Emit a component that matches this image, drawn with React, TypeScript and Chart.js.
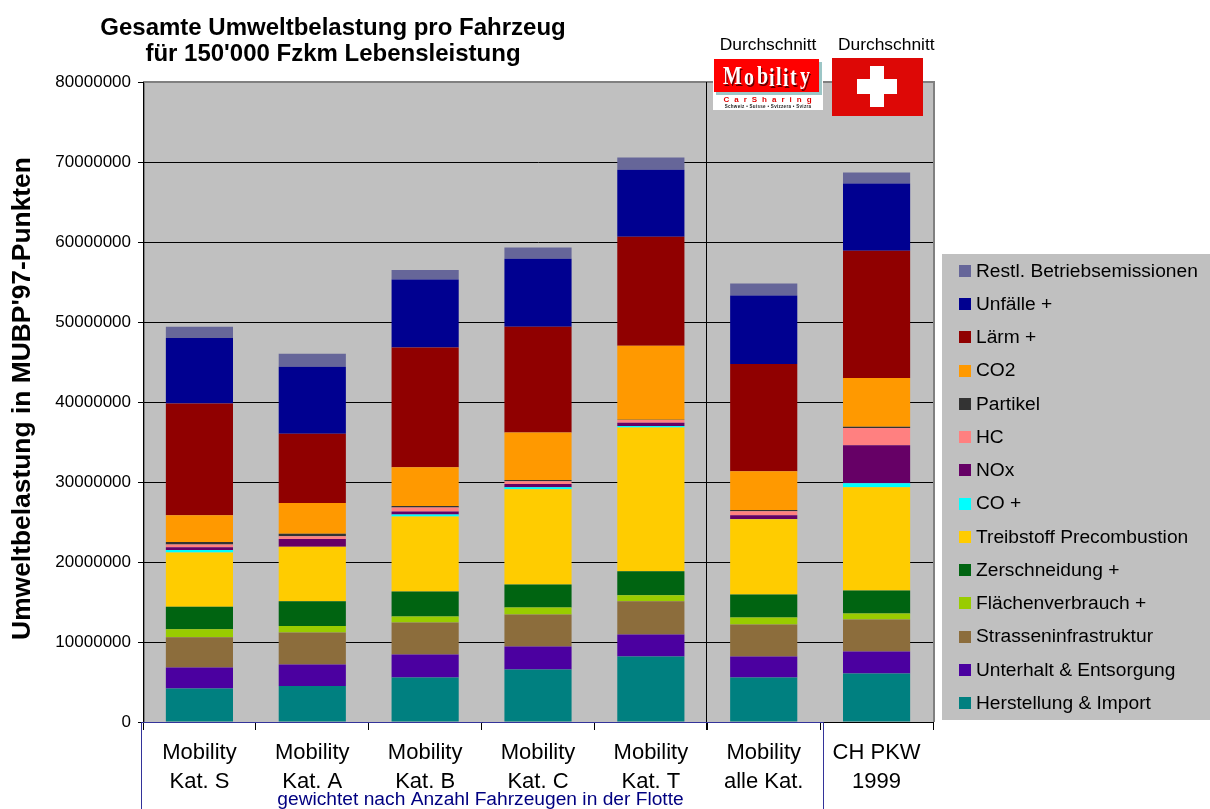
import React, { useEffect, useRef } from "react";
import { Chart, registerables } from "chart.js";

Chart.register(...registerables);

const FONT = '"Liberation Sans", Arial, sans-serif';

const categories = [
  ["Mobility", "Kat. S"],
  ["Mobility", "Kat. A"],
  ["Mobility", "Kat. B"],
  ["Mobility", "Kat. C"],
  ["Mobility", "Kat. T"],
  ["Mobility", "alle Kat."],
  ["CH PKW", "1999"],
];

const herstellung = [4200000, 4500000, 5550000, 6550000, 8200000, 5550000, 6050000];
const unterhalt = [2600000, 2700000, 2900000, 2900000, 2750000, 2650000, 2750000];
const strasse = [3800000, 4000000, 4000000, 4000000, 4150000, 4000000, 4000000];
const flaechen = [1000000, 800000, 750000, 850000, 750000, 850000, 750000];
const zerschneidung = [2800000, 3100000, 3100000, 2900000, 3000000, 2900000, 2900000];
const treibstoff = [6800000, 6800000, 9400000, 11900000, 17950000, 9400000, 12900000];
const co = [300000, 20000, 250000, 250000, 200000, 20000, 500000];
const nox = [350000, 950000, 350000, 400000, 400000, 480000, 4750000];
const hc = [350000, 350000, 500000, 350000, 350000, 500000, 2150000];
const partikel = [300000, 300000, 200000, 150000, 20000, 150000, 150000];
const co2 = [3350000, 3850000, 4850000, 5950000, 9250000, 4850000, 6100000];
const laerm = [13950000, 8650000, 14950000, 13200000, 13650000, 13400000, 15900000];
const unfaelle = [8200000, 8400000, 8500000, 8500000, 8350000, 8550000, 8400000];
const restl = [1400000, 1600000, 1200000, 1400000, 1550000, 1500000, 1400000];

const seriesNames = [
  "Herstellung & Import", "Unterhalt & Entsorgung", "Strasseninfrastruktur",
  "Flächenverbrauch +", "Zerschneidung +", "Treibstoff Precombustion", "CO +",
  "NOx", "HC", "Partikel", "CO2", "Lärm +", "Unfälle +", "Restl. Betriebsemissionen",
];
const seriesValues = [
  herstellung, unterhalt, strasse, flaechen, zerschneidung, treibstoff, co,
  nox, hc, partikel, co2, laerm, unfaelle, restl,
];
const seriesColors = [
  "#008080", "#4B00A0", "#8C6D3C", "#99CC00", "#006411", "#FFCC00", "#00FFFF",
  "#660066", "#FF8080", "#333333", "#FF9900", "#900000", "#000090", "#666699",
];

const titleLines = ["Gesamte Umweltbelastung pro Fahrzeug", "für 150'000 Fzkm Lebensleistung"];
const yAxisTitle = "Umweltbelastung in MUBP'97-Punkten";
const flotteNote = "gewichtet nach Anzahl Fahrzeugen in der Flotte";
const logoCaption = "Durchschnitt";
const logoLetters = ["M", "o", "b", "i", "l", "i", "t", "y"];
const logoLetterX = [723, 744, 757, 769, 776, 783, 790, 800];
const logoLetterY = [84, 85, 84, 86, 85, 86, 85, 84];

function text(ctx: CanvasRenderingContext2D, s: string, x: number, y: number, font: string, color: string, align: CanvasTextAlign = "center") {
  ctx.font = font;
  ctx.fillStyle = color;
  ctx.textAlign = align;
  ctx.textBaseline = "middle";
  ctx.fillText(s, x, y);
}

const backdrop = {
  id: "backdrop",
  beforeDraw(chart: any) {
    const { ctx, chartArea: a } = chart;
    ctx.save();
    ctx.fillStyle = "#C0C0C0";
    ctx.fillRect(a.left, a.top, a.right - a.left, a.bottom - a.top);
    ctx.strokeStyle = "#808080";
    ctx.lineWidth = 2;
    ctx.beginPath();
    ctx.moveTo(a.left + 1, a.bottom);
    ctx.lineTo(a.left + 1, a.top);
    ctx.lineTo(a.right + 1, a.top);
    ctx.lineTo(a.right + 1, a.bottom);
    ctx.stroke();
    // legend panel
    ctx.fillStyle = "#C0C0C0";
    ctx.fillRect(942, 254, 268, 466);
    ctx.restore();
  },
  afterDraw(chart: any) {
    const { ctx, chartArea: a, scales } = chart;
    ctx.save();
    // title
    text(ctx, titleLines[0], 333, 28.5, `bold 24px ${FONT}`, "#000");
    text(ctx, titleLines[1], 333, 54.5, `bold 24px ${FONT}`, "#000");

    // y axis title
    ctx.save();
    ctx.translate(23, 398.5);
    ctx.rotate(-Math.PI / 2);
    text(ctx, yAxisTitle, 0, 0, `bold 26.4px ${FONT}`, "#000");
    ctx.restore();

    // divider between the Mobility categories and the fleet average
    const x = scales.x;
    const divider = Math.round((x.getPixelForValue(4) + x.getPixelForValue(5)) / 2) - 0.5;
    ctx.strokeStyle = "#000";
    ctx.lineWidth = 1;
    ctx.beginPath();
    ctx.moveTo(divider, a.top);
    ctx.lineTo(divider, a.bottom + 8);
    ctx.stroke();

    // blue bracket under the Mobility categories
    ctx.strokeStyle = "#333399";
    ctx.beginPath();
    ctx.moveTo(141.5, 809);
    ctx.lineTo(141.5, a.bottom + 0.5);
    ctx.lineTo(823.5, a.bottom + 0.5);
    ctx.lineTo(823.5, 809);
    ctx.stroke();
    text(ctx, flotteNote, 480.5, 800, `19.2px ${FONT}`, "#000080");

    // legend
    const n = seriesNames.length;
    for (let i = 0; i < n; i++) {
      const idx = n - 1 - i;
      const cy = 271 + (i * 432) / 13;
      ctx.fillStyle = seriesColors[idx];
      ctx.fillRect(959, Math.round(cy - 6), 12, 12);
      text(ctx, seriesNames[idx], 976, cy + 0.5, `19.2px ${FONT}`, "#000", "left");
    }

    // captions and logos
    text(ctx, logoCaption, 768, 45, `17.4px ${FONT}`, "#000");
    text(ctx, logoCaption, 886.3, 45, `17.4px ${FONT}`, "#000");

    // Swiss flag
    ctx.fillStyle = "#DD0806";
    ctx.fillRect(832, 58, 91, 58);
    ctx.fillStyle = "#FFF";
    ctx.fillRect(857, 79, 40, 15);
    ctx.fillRect(870, 66, 14, 41);

    // Mobility logo
    ctx.fillStyle = "#FFF";
    ctx.fillRect(713, 59, 110, 51);
    ctx.fillStyle = "#9CC6C6";
    ctx.fillRect(716, 62, 106, 33);
    ctx.fillStyle = "#FF0000";
    ctx.fillRect(714, 59, 105, 33);
    ctx.textAlign = "left";
    ctx.textBaseline = "alphabetic";
    ctx.font = `bold 25px "Liberation Serif", serif`;
    logoLetters.forEach((ch, i) => {
      ctx.save();
      ctx.translate(logoLetterX[i], logoLetterY[i]);
      ctx.scale(0.8, 1);
      ctx.fillStyle = "#600000";
      ctx.fillText(ch, 1.5, 1.5);
      ctx.fillStyle = "#FFF";
      ctx.fillText(ch, 0, 0);
      ctx.restore();
    });
    (ctx as any).letterSpacing = "5px";
    text(ctx, "CarSharing", 770, 100, `bold 8px ${FONT}`, "#E00000");
    (ctx as any).letterSpacing = "0.3px";
    text(ctx, "Schweiz • Suisse • Svizzera • Svizra", 768, 107, `bold 4.5px ${FONT}`, "#222");
    (ctx as any).letterSpacing = "0px";
    ctx.restore();
  },
};

export default function App() {
  const ref = useRef<HTMLCanvasElement>(null);

  useEffect(() => {
    document.body.style.margin = "0";
    const chart = new Chart(ref.current as HTMLCanvasElement, {
      type: "bar",
      data: {
        labels: categories,
        datasets: seriesNames.map((name, i) => ({
          label: name,
          data: seriesValues[i],
          backgroundColor: seriesColors[i],
          borderWidth: 0,
          barPercentage: 0.595,
          categoryPercentage: 1,
        })),
      },
      options: {
        animation: false,
        responsive: false,
        layout: { padding: { left: 0, top: 82, right: 277, bottom: 0 } },
        plugins: {
          legend: { display: false },
          title: { display: false },
          tooltip: { enabled: false },
        },
        scales: {
          x: {
            stacked: true,
            afterFit(scale: any) { scale.height = 87; },
            border: { color: "#000", width: 1 },
            grid: { offset: true, drawOnChartArea: false, drawTicks: true, tickLength: 8, color: "#000" },
            ticks: {
              color: "#000",
              padding: 8,
              maxRotation: 0,
              autoSkip: false,
              font: { family: FONT, size: 22, lineHeight: 1.32 },
            },
          },
          y: {
            stacked: true,
            min: 0,
            max: 80000000,
            afterFit(scale: any) { scale.width = 143; },
            border: { color: "#000", width: 1 },
            grid: {
              color: (c: any) => (c.tick && c.tick.value === 80000000 ? "#808080" : "#000"),
              tickColor: "#000",
              lineWidth: 1,
              tickLength: 5,
            },
            ticks: {
              color: "#000",
              padding: 7,
              stepSize: 10000000,
              font: { family: FONT, size: 17 },
              callback: (v: any) => String(v),
            },
          },
        },
      } as any,
      plugins: [backdrop],
    });
    return () => chart.destroy();
  }, []);

  return (
    <div style={{ position: "absolute", left: 0, top: 0, width: 1210, height: 809, background: "#fff" }}>
      <canvas ref={ref} width={1210} height={809} style={{ display: "block" }} />
    </div>
  );
}
